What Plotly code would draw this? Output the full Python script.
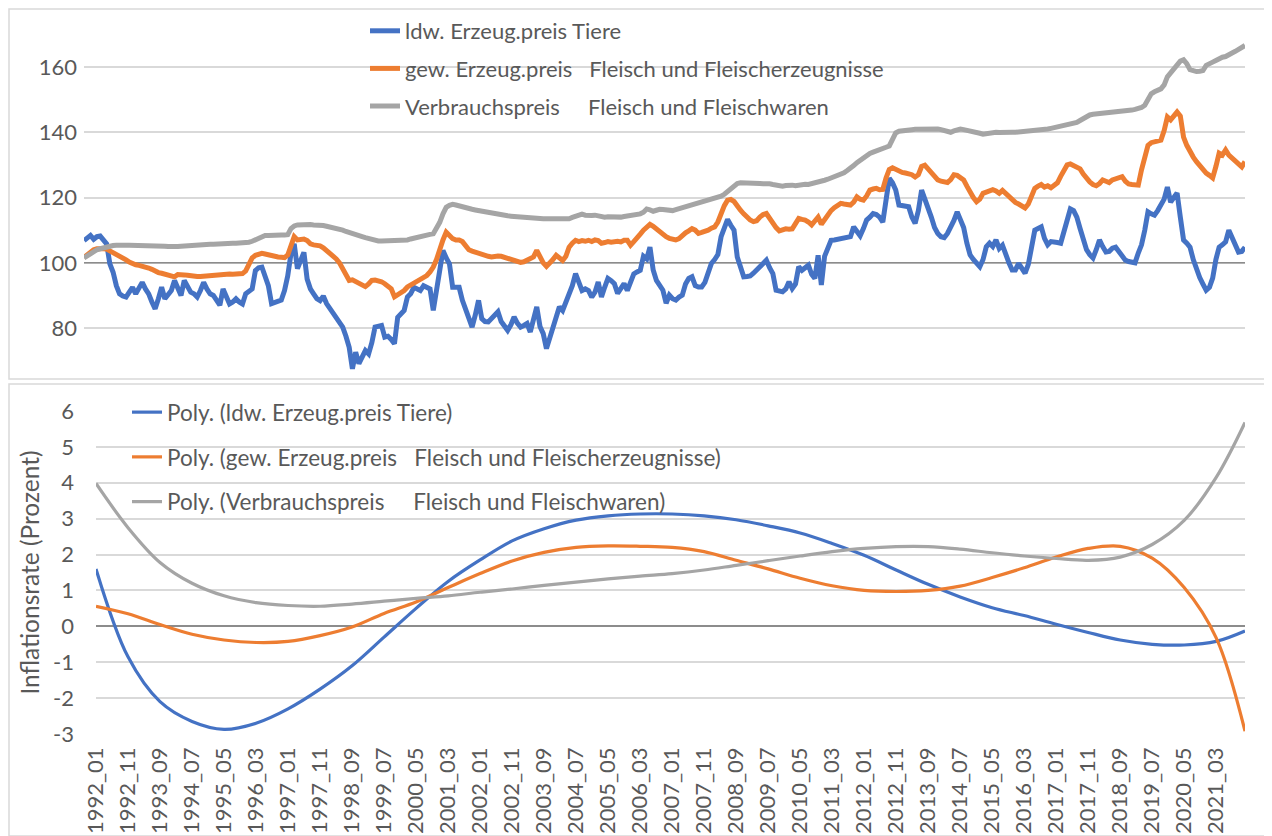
import plotly.graph_objects as go

# ---------------- data ----------------
months = [f"{y}_{m:02d}" for y in range(1992, 2022) for m in range(1, 13)]

# ldw. Erzeugerpreis Tiere (monthly index)
tiere = [
    106.8, 107.8, 108.4, 107.2, 108.0, 108.2, 107.0, 105.8, 99.7, 97.1, 93.0, 90.5,
    89.8, 89.5, 91.0, 92.5, 90.5, 92.0, 94.0, 92.0, 90.5, 88.0, 85.9, 89.0,
    92.5, 89.0, 90.0, 91.5, 94.6, 92.0, 90.0, 94.6, 92.5, 91.0, 90.5, 89.5,
    91.5, 94.0, 92.0, 90.5, 90.0, 88.5, 87.0, 92.0, 89.5, 87.4, 88.0, 89.0,
    88.0, 87.4, 90.5, 91.5, 92.0, 97.6, 98.5, 98.7, 95.6, 93.0, 87.5, 88.0,
    88.4, 88.6, 91.5, 96.0, 102.8, 105.8, 98.2, 100.5, 103.2, 95.0, 92.0, 90.5,
    89.0, 88.4, 89.8, 87.5, 86.0, 84.5, 83.3, 82.0, 80.3, 77.5, 74.1, 67.5,
    72.6, 69.1, 71.0, 73.1, 72.1, 75.5, 80.3, 80.5, 80.8, 77.2, 77.5, 76.5,
    75.2, 83.3, 84.5, 85.4, 89.5, 90.5, 92.5, 92.2, 91.5, 93.0, 92.5, 92.0,
    85.4, 92.0, 98.7, 103.8, 101.5, 99.7, 92.5, 92.5, 92.5, 88.5, 85.4, 82.5,
    80.3, 84.0, 88.5, 82.9, 82.0, 81.9, 83.0, 84.0, 85.0, 82.0, 80.5, 79.3,
    81.0, 83.4, 81.5, 80.3, 80.8, 81.4, 78.8, 82.0, 86.5, 80.5, 78.3, 73.7,
    77.0, 80.3, 84.0, 86.5, 85.4, 88.0, 90.5, 93.0, 96.7, 94.0, 91.5, 92.0,
    91.5, 89.5, 91.0, 94.1, 89.5, 92.5, 95.2, 94.5, 93.6, 90.6, 92.0, 93.6,
    91.5, 94.0, 96.6, 97.2, 97.7, 102.0, 101.2, 104.8, 97.8, 94.6, 93.0, 91.6,
    87.6, 90.1, 89.0, 88.6, 89.5, 90.1, 93.5, 95.2, 95.7, 93.0, 92.6, 92.6,
    94.0, 96.7, 99.8, 101.0, 102.5, 108.0, 111.0, 113.3, 111.5, 110.0, 101.8, 98.8,
    95.7, 95.8, 96.0, 96.8, 97.7, 98.8, 99.8, 100.8, 98.5, 96.7, 91.6, 91.3,
    91.1, 92.0, 94.2, 92.1, 93.5, 98.8, 97.7, 98.5, 99.3, 96.5, 95.2, 102.3,
    93.2, 102.0, 105.0, 106.9, 107.0, 107.2, 107.4, 107.6, 107.8, 108.0, 111.0, 109.5,
    108.3, 110.5, 113.1, 114.0, 115.1, 114.8, 114.0, 112.5, 120.0, 125.9, 124.5, 122.3,
    117.7, 117.5, 117.2, 117.2, 114.0, 112.1, 116.0, 122.3, 119.5, 117.2, 114.0, 110.8,
    109.0, 108.0, 107.7, 109.0, 110.8, 113.0, 115.6, 113.0, 110.8, 106.0, 102.4, 101.0,
    99.8, 98.8, 101.0, 104.9, 106.0, 105.0, 107.0, 104.4, 105.4, 102.4, 100.0, 97.8,
    97.8, 99.8, 98.5, 96.8, 99.5, 104.5, 110.0, 110.5, 111.0, 107.5, 105.5, 106.5,
    106.5, 106.2, 106.0, 110.0, 114.0, 116.5, 116.0, 114.0, 110.5, 107.0, 104.0, 102.5,
    101.5, 104.0, 107.0, 105.0, 103.3, 103.5, 104.5, 104.8, 103.5, 102.0, 100.8, 100.4,
    100.3, 100.0, 103.0, 105.5, 110.0, 115.6, 115.0, 114.6, 116.0, 117.7, 119.5, 123.2,
    118.6, 120.0, 121.4, 114.0, 107.0, 106.0, 104.8, 101.0, 97.8, 95.5, 93.5, 91.6,
    92.5, 95.3, 101.0, 104.8, 105.5, 106.4, 110.0, 107.5, 105.5, 103.3, 103.5, 104.8,
]

# gew. Erzeugerpreis Fleisch und Fleischerzeugnisse
fleisch_erz = [
    101.6, 102.5, 103.4, 104.0, 104.3, 104.4, 104.3, 104.2, 103.7, 103.2, 102.8, 102.3,
    101.6, 100.9, 100.2, 99.7, 99.4, 99.2, 99.0, 98.7, 98.4, 98.0, 97.3, 97.0,
    96.8, 96.5, 96.2, 95.8, 95.7, 96.4, 96.5, 96.3, 96.2, 96.0, 95.9, 95.8,
    95.8, 95.9, 96.0, 96.1, 96.3, 96.4, 96.5, 96.6, 96.5, 96.6, 96.5, 96.6,
    96.5, 96.7, 97.5, 99.5, 101.5, 102.3, 102.6, 102.9, 102.7, 102.4, 102.2, 102.0,
    101.8, 101.7, 101.6, 102.4, 105.5, 108.0, 107.0, 107.1, 107.3, 106.8, 105.8, 105.5,
    105.4, 105.2, 104.6, 103.8, 102.8, 101.8, 101.2, 100.0, 98.2, 96.6, 94.6, 94.8,
    94.2, 93.6, 93.0, 92.7, 93.5, 94.6, 94.7, 94.6, 94.2, 93.6, 92.8, 92.0,
    89.6, 90.3, 90.6, 91.5, 92.6, 93.2, 94.0, 94.6, 95.0, 95.5, 96.1, 97.2,
    98.7, 101.0, 104.3, 107.0, 109.4, 108.4, 107.4, 107.0, 107.0, 106.5, 105.3, 104.0,
    103.6, 103.2, 102.8, 102.6, 102.3, 102.0, 101.8, 102.0, 102.1, 102.0, 101.7, 101.5,
    101.2, 101.0, 100.6, 100.1, 100.3, 100.8, 101.3, 101.8, 103.8, 101.8, 100.0, 98.9,
    99.8, 101.0, 102.3, 101.5, 100.7, 102.0, 104.8, 106.0, 106.9, 106.5, 106.8, 106.6,
    106.9, 106.5, 107.0, 106.8, 106.0, 106.2, 106.5, 106.3, 106.5, 106.6, 106.4, 106.9,
    106.9, 105.4, 106.5, 107.9, 108.8, 110.0, 111.0, 111.8, 111.2, 110.4, 109.2, 108.5,
    108.0, 107.5, 107.2, 107.0, 107.4, 108.4, 109.2, 109.8, 110.5, 110.0, 109.0, 109.3,
    109.6, 110.0, 110.6, 111.0, 112.5, 115.6, 117.5, 119.2, 119.4, 118.8, 117.2, 116.1,
    115.0, 113.8, 113.1, 112.6, 112.9, 114.0, 114.8, 115.1, 113.6, 112.0, 110.8, 109.8,
    110.2, 110.4, 110.3, 110.4, 112.0, 113.6, 113.3, 113.1, 112.5, 111.6, 112.8, 114.0,
    111.8, 113.2, 114.8, 116.0, 116.9, 117.6, 118.2, 118.0, 117.8, 117.7, 118.6, 120.2,
    119.5, 119.2, 120.5, 122.3, 122.6, 122.8, 122.4, 122.5, 126.0, 128.6, 129.1, 128.6,
    128.0, 127.7, 127.5, 127.4, 127.0, 126.3, 127.0, 129.5, 129.9, 128.8, 127.8, 126.6,
    125.4, 125.0, 124.7, 124.6, 125.5, 127.0, 126.8, 126.2, 125.4, 123.5, 121.3, 120.0,
    118.7, 119.5, 121.3, 121.6, 122.0, 122.4, 122.0, 121.3, 122.2, 121.3, 120.4, 119.2,
    118.5, 118.0, 117.5, 116.8, 118.0, 121.0, 122.8, 123.5, 124.0, 123.2, 123.6, 123.0,
    123.6, 124.5, 126.5, 128.5, 130.0, 130.3, 129.8, 129.3, 128.8, 127.2, 125.8, 124.8,
    124.0, 123.6, 124.3, 125.4, 125.0, 124.6, 125.4, 125.8, 126.0, 126.4, 125.0, 124.2,
    124.0, 123.9, 123.8, 128.5, 133.0, 136.0, 136.8, 137.0, 137.2, 137.6, 140.5, 144.7,
    143.8, 144.8, 146.2, 145.0, 138.5, 136.0, 134.0, 132.4, 131.0, 129.8, 128.4, 127.5,
    126.8, 126.0, 129.5, 133.6, 133.0, 134.6, 133.0, 132.0, 131.2, 130.0, 129.4, 131.0,
]

# Verbraucherpreis Fleisch und Fleischwaren
verbrauch = [
    101.5, 102.2, 102.9, 103.5, 104.0, 104.3, 104.6, 104.9, 105.1, 105.3, 105.4, 105.5,
    105.5, 105.4, 105.4, 105.4, 105.3, 105.3, 105.3, 105.4, 105.3, 105.3, 105.2, 105.2,
    105.2, 105.1, 105.0, 104.9, 104.8, 105.0, 105.1, 105.2, 105.2, 105.3, 105.3, 105.3,
    105.4, 105.5, 105.6, 105.7, 105.7, 105.8, 105.8, 105.9, 105.9, 106.0, 106.0, 106.0,
    106.0, 106.1, 106.1, 106.3, 106.6, 107.0, 107.6, 108.2, 108.4, 108.4, 108.5, 108.5,
    108.4, 108.5, 108.5, 108.6, 110.5, 111.3, 111.6, 111.7, 111.7, 111.7, 111.7, 111.6,
    111.6, 111.5, 111.4, 111.2, 111.0, 110.9, 110.7, 110.4, 110.0, 109.6, 109.2, 108.9,
    108.6, 108.3, 108.0, 107.7, 107.4, 107.1, 106.9, 106.7, 106.7, 106.7, 106.7, 106.7,
    106.7, 106.7, 106.7, 106.8, 107.0, 107.3, 107.6, 107.8, 108.0, 108.2, 108.4, 108.7,
    108.9, 110.5, 112.4, 115.0, 117.0, 117.6, 117.9, 117.7, 117.4, 117.0, 116.8, 116.5,
    116.4, 116.2, 116.0, 115.8, 115.6, 115.3, 115.1, 114.9, 114.7, 114.6, 114.5, 114.4,
    114.3, 114.2, 114.1, 113.9, 113.8, 113.7, 113.7, 113.6, 113.6, 113.5, 113.5, 113.5,
    113.5, 113.4, 113.4, 113.3, 113.3, 113.2, 113.5, 113.9, 114.3, 114.6, 114.9, 114.6,
    114.4, 114.5, 114.6, 114.3, 114.2, 114.0, 114.1, 114.0, 113.9, 113.9, 114.0, 114.2,
    114.3, 114.5, 114.6, 114.8, 115.0, 115.5, 116.5, 116.2, 115.8, 116.1, 116.4, 116.3,
    116.2, 116.1, 116.0, 116.3, 116.6, 116.9, 117.2, 117.5, 117.8, 118.0, 118.3, 118.6,
    118.9, 119.2, 119.5, 119.8, 120.0, 120.4, 121.0, 121.8, 122.8, 123.8, 124.3, 124.5,
    124.5, 124.6, 124.5, 124.4, 124.5, 124.3, 124.2, 124.3, 124.2, 124.0, 123.8, 123.6,
    123.5, 123.7, 123.9, 123.8, 123.6, 123.8, 124.0, 124.1, 124.0, 124.2, 124.5, 124.8,
    125.0, 125.3, 125.6, 126.0, 126.4, 126.7, 127.0, 127.6, 128.3, 128.9, 129.8, 130.7,
    131.5, 132.2, 132.9, 133.5, 133.9, 134.2, 134.5, 134.9, 135.4, 135.8, 138.0, 139.8,
    140.3, 140.5, 140.6, 140.7, 140.8, 140.9, 140.9, 141.0, 141.1, 141.1, 141.2, 141.2,
    141.0, 140.8, 140.6, 140.3, 140.0, 140.4, 140.9, 141.0, 140.8, 140.6, 140.5, 140.4,
    140.1, 139.7, 139.4, 139.6, 139.8, 140.0, 140.0, 139.9, 140.0, 140.0, 140.0, 140.0,
    140.0, 140.1, 140.1, 140.1, 140.1, 140.2, 140.3, 140.4, 140.6, 140.8, 141.0, 141.2,
    141.4, 141.6, 141.8, 142.0, 142.2, 142.3, 142.6, 143.0, 143.6, 144.2, 144.8, 145.3,
    145.5, 145.6, 145.7, 145.8, 145.9, 146.1, 146.2, 146.3, 146.3, 146.2, 146.5, 146.7,
    146.8, 147.0, 147.2, 147.6, 148.3, 150.0, 151.8, 152.4, 152.8, 153.3, 154.5, 157.0,
    158.2, 159.5, 160.8, 161.8, 162.2, 161.0, 159.2, 158.8, 158.6, 158.7, 158.9, 160.5,
    161.2, 161.5, 162.0, 162.7, 163.0, 163.2, 163.9, 164.3, 164.8, 165.3, 165.9, 166.6,
]

# polynomial trend lines of the inflation rates, read every 10 months + last month
poly_months = months[::10] + [months[-1]]
poly_tiere = [1.6, -0.85, -2.1, -2.65, -2.87, -2.7, -2.3, -1.75, -1.1, -0.3,
              0.5, 1.25, 1.85, 2.38, 2.72, 2.96, 3.08, 3.13, 3.13, 3.08,
              2.97, 2.8, 2.6, 2.31, 1.98, 1.57, 1.17, 0.82, 0.52, 0.3,
              0.06, -0.17, -0.38, -0.5, -0.52, -0.42, -0.13]
poly_fleisch = [0.56, 0.35, 0.05, -0.22, -0.38, -0.45, -0.42, -0.26, -0.02, 0.36,
                0.68, 1.08, 1.47, 1.82, 2.06, 2.2, 2.24, 2.23, 2.2, 2.08,
                1.84, 1.6, 1.34, 1.13, 1.0, 0.97, 1.0, 1.12, 1.36, 1.63,
                1.93, 2.17, 2.23, 1.9, 1.08, -0.32, -2.92]
poly_verbrauch = [3.98, 2.75, 1.78, 1.2, 0.85, 0.66, 0.58, 0.56, 0.62, 0.7,
                  0.78, 0.85, 0.95, 1.04, 1.14, 1.23, 1.32, 1.4, 1.47, 1.57,
                  1.7, 1.83, 1.96, 2.08, 2.17, 2.22, 2.22, 2.15, 2.05, 1.96,
                  1.89, 1.84, 1.93, 2.28, 2.95, 4.15, 5.68]

base_level = 100  # horizontal axis crossing of the upper chart
top_ticks = [80, 100, 120, 140, 160]
bottom_ticks = [-3, -2, -1, 0, 1, 2, 3, 4, 5, 6]

names_top = ["ldw. Erzeug.preis Tiere",
             "gew. Erzeug.preis\u00a0\u00a0\u00a0Fleisch und Fleischerzeugnisse",
             "Verbrauchspreis\u00a0\u00a0\u00a0\u00a0\u00a0Fleisch und Fleischwaren"]
names_bot = ["Poly. (ldw. Erzeug.preis Tiere)",
             "Poly. (gew. Erzeug.preis\u00a0\u00a0\u00a0Fleisch und Fleischerzeugnisse)",
             "Poly. (Verbrauchspreis\u00a0\u00a0\u00a0\u00a0\u00a0Fleisch und Fleischwaren)"]
colors = ["#4472C4", "#ED7D31", "#A5A5A5"]

# ---------------- figure ----------------
# page body has an 8px margin, so the figure is 8px smaller and offset
OFF = 8
W, H = 1272 - OFF, 836 - OFF
FONT = "Lato"
TXT = "#595959"
GRID = "#D9D9D9"

idx = list(range(len(months)))
pidx = [months.index(m) for m in poly_months]


def px_x(p):
    return min(max((p - OFF) / W, 0.0), 1.0)


def px_y(p):
    return min(max(1 - (p - OFF) / H, 0.0), 1.0)


fig = go.Figure()
# axis line at 100 in the upper chart (drawn beneath the series)
fig.add_trace(go.Scatter(
    x=[idx[0], idx[-1]], y=[base_level, base_level], mode="lines",
    line=dict(color="#8C8C8C", width=1.5), showlegend=False, hoverinfo="skip",
    xaxis="x", yaxis="y",
))
for k, series in enumerate([tiere, fleisch_erz, verbrauch]):
    fig.add_trace(go.Scatter(
        x=idx[:len(series)], y=series, mode="lines", name=names_top[k],
        line=dict(color=colors[k], width=5), xaxis="x", yaxis="y",
        legend="legend", legendgroup=f"t{k}", customdata=months,
    ))
for k, series in enumerate([poly_tiere, poly_fleisch, poly_verbrauch]):
    fig.add_trace(go.Scatter(
        x=pidx, y=series, mode="lines", name=names_bot[k],
        line=dict(color=colors[k], width=3.2, shape="spline", smoothing=1.0),
        xaxis="x2", yaxis="y2", legend="legend2", legendgroup=f"b{k}",
    ))

fig.update_layout(
    width=W, height=H,
    margin=dict(l=0, r=0, t=0, b=0),
    paper_bgcolor="white", plot_bgcolor="rgba(0,0,0,0)",
    font=dict(family=FONT, color=TXT),
    xaxis=dict(domain=[px_x(84), px_x(1245)], range=[0, 359], anchor="y",
               showticklabels=False, showgrid=False, zeroline=False,
               showline=False, ticks="", automargin=False, fixedrange=True),
    yaxis=dict(domain=[px_y(378), px_y(8)], range=[64.7, 178.08], anchor="x",
               tickvals=top_ticks, showgrid=True, gridcolor=GRID,
               gridwidth=1.5, zeroline=False, showline=False, ticks="",
               ticklabelstandoff=6,
               tickfont=dict(family=FONT, size=22, color=TXT), automargin=False),
    xaxis2=dict(domain=[px_x(96), px_x(1245)], range=[0, 359], anchor="y2",
                tickvals=idx[::10], ticktext=months[::10], tickangle=-90,
                tickfont=dict(family=FONT, size=22, color=TXT),
                ticklabelstandoff=8,
                showgrid=False, zeroline=False, showline=False, ticks="",
                automargin=False),
    yaxis2=dict(domain=[px_y(734), px_y(411)], range=[-3, 6], anchor="x2",
                tickvals=bottom_ticks, ticktext=[str(v) for v in bottom_ticks],
                showgrid=True, gridcolor=GRID, gridwidth=1.5,
                zeroline=True, zerolinecolor="#8C8C8C", zerolinewidth=1.5,
                showline=False, ticks="", ticklabelstandoff=21,
                tickfont=dict(family=FONT, size=22, color=TXT),
                title=dict(text="Inflationsrate (Prozent)",
                           font=dict(family=FONT, size=24.5, color=TXT), standoff=6),
                automargin=False),
    legend=dict(x=px_x(365), y=px_y(10), xanchor="left", yanchor="top",
                bgcolor="rgba(0,0,0,0)", font=dict(family=FONT, size=22, color=TXT),
                tracegroupgap=6, itemclick=False),
    legend2=dict(x=px_x(127), y=px_y(391), xanchor="left", yanchor="top",
                 bgcolor="rgba(0,0,0,0)", font=dict(family=FONT, size=22.5, color=TXT),
                 tracegroupgap=12.5, itemclick=False),
    showlegend=True,
    shapes=[
        dict(type="rect", xref="paper", yref="paper", x0=px_x(9), x1=px_x(1267),
             y0=px_y(379), y1=px_y(9), line=dict(color=GRID, width=1.5), layer="below"),
        dict(type="rect", xref="paper", yref="paper", x0=px_x(9), x1=px_x(1267),
             y0=0.0, y1=px_y(384), line=dict(color=GRID, width=1.5), layer="below"),
    ],
)

fig.write_html("out.html")
